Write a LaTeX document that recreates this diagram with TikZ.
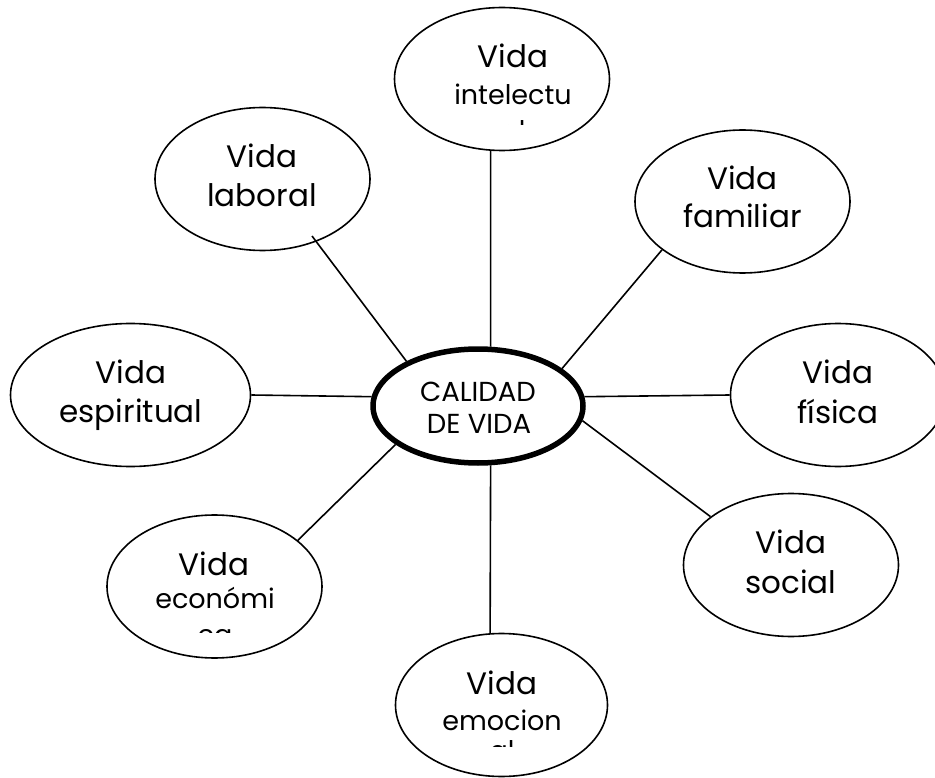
\documentclass[tikz,border=0pt]{standalone}
\usepackage{fontspec}
\setmainfont{Poppins}
\usetikzlibrary{shapes.geometric}
\begin{document}
\begin{tikzpicture}[x=1pt,y=-1pt,
  bub/.style={ellipse, draw, line width=1.6pt, minimum width=215pt, minimum height=143pt, inner sep=0pt},
  core/.style={ellipse, draw, line width=5.5pt, minimum width=210pt, minimum height=114pt, inner sep=0pt},
  conn/.style={line width=1.6pt},
  big/.style={anchor=base, inner sep=0pt, font=\fontsize{31}{36}\selectfont},
  small/.style={anchor=base, inner sep=0pt, font=\fontsize{27}{32}\selectfont},
  ctext/.style={anchor=base, inner sep=0pt, font=\fontsize{27.5}{32}\selectfont}]
\useasboundingbox (0,0) rectangle (935,778);
\fill[white] (0,0) rectangle (935,778);

% ellipses
\node[bub] (intel) at (502,79) {};
\node[bub] (lab) at (262.5,179) {};
\node[bub] (fam) at (742.5,201.5) {};
\node[bub, minimum width=240pt] (esp) at (130.5,395) {};
\node[bub] (fis) at (838,395) {};
\node[bub] (soc) at (791,565) {};
\node[bub] (eco) at (214.5,586.5) {};
\node[bub, minimum width=212pt] (emo) at (501.5,705) {};
\node[core] (core) at (478,406) {};

% connectors
\coordinate (labEnd) at (312,236);
\draw[conn] (intel.261) -- (core.78);
\draw[conn] (labEnd) -- (core.148);
\draw[conn] (fam.211) -- (core.24);
\draw[conn] (esp.0) -- (core.175);
\draw[conn] (core.5) -- (fis.180);
\draw[conn] (core.352) -- (soc.149);
\draw[conn] (core.205) -- (eco.29);
\draw[conn] (core.282) -- (emo.99);

% texts
\node[big] (intelA) at (513,68) {Vida};
\node[small] (intelB) at (513,105) {intelectu};
\begin{scope}
  \clip (395,0) rectangle (611,125);
  \node[small] (intelC) at (513,141) {al};
\end{scope}

\node[big] (labA) at (262,168) {Vida};
\node[big] (labB) at (262,207) {laboral};

\node[big] (famA) at (742.5,190) {Vida};
\node[big] (famB) at (742.5,228) {familiar};

\node[big] (espA) at (131,383) {Vida};
\node[big] (espB) at (131,422) {espiritual};

\node[big] (fisA) at (838,383) {Vida};
\node[big] (fisB) at (838,423) {física};

\node[big] (socA) at (791,553) {Vida};
\node[big] (socB) at (791,593) {social};

\node[big] (ecoA) at (214,575) {Vida};
\node[small] (ecoB) at (215,608) {económi};
\begin{scope}
  \clip (106,500) rectangle (323,632);
  \node[small] (ecoC) at (215,644) {ca};
\end{scope}

\node[big] (emoA) at (502,694) {Vida};
\node[small] (emoB) at (502,730) {emocion};
\begin{scope}
  \clip (395,640) rectangle (608,746);
  \node[small] (emoC) at (502,760) {al};
\end{scope}

\node[ctext] (coreA) at (478,401) {CALIDAD};
\node[ctext] (coreB) at (479,433) {DE VIDA};
\end{tikzpicture}
\end{document}
